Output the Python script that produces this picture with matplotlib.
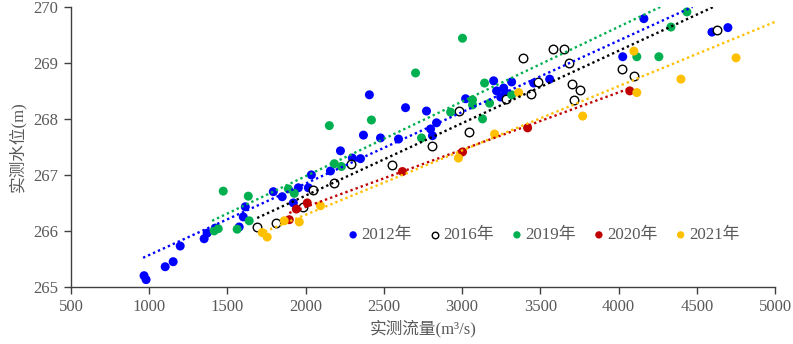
import numpy as np
import matplotlib
matplotlib.use("Agg")
import matplotlib.pyplot as plt

plt.rcParams['font.family'] = ['Liberation Serif', 'Noto Sans CJK SC', 'DejaVu Sans']

# ---- data ----
q2012 = [967, 980, 1102, 1153, 1198, 1351, 1370, 1422, 1575, 1601, 1614, 1793, 1850, 1921,
         1953, 2017, 2036, 2158, 2222, 2298, 2350, 2369, 2407, 2478, 2593, 2638, 2772, 2798,
         2810, 2836, 3022, 3201, 3220, 3246, 3265, 3278, 3316, 3457, 3559, 4026, 4161, 4596, 4698]
h2012 = [265.20, 265.13, 265.36, 265.45, 265.73, 265.86, 265.96, 266.05, 266.07, 266.25, 266.43,
         266.70, 266.61, 266.50, 266.77, 266.77, 267.00, 267.07, 267.43, 267.30, 267.29, 267.71,
         268.43, 267.66, 267.64, 268.20, 268.14, 267.82, 267.70, 267.93, 268.36, 268.68, 268.50,
         268.39, 268.55, 268.46, 268.66, 268.64, 268.71, 269.11, 269.79, 269.55, 269.63]

q2016 = [1690, 1812, 1985, 2049, 2183, 2292, 2554, 2808, 2981, 3045, 3278, 3386, 3438, 3482,
         3578, 3649, 3681, 3700, 3713, 3751, 4020, 4097, 4628]
h2016 = [266.07, 266.14, 266.43, 266.73, 266.86, 267.20, 267.18, 267.52, 268.14, 267.77, 268.35,
         269.09, 268.45, 268.66, 269.25, 269.25, 269.00, 268.62, 268.34, 268.52, 268.89, 268.77,
         269.59]

q2019 = [1415, 1441, 1473, 1562, 1633, 1639, 1889, 1927, 2151, 2183, 2228, 2420, 2702, 2740,
         2926, 3002, 3066, 3066, 3130, 3143, 3175, 3316, 4116, 4257, 4334, 4436]
h2019 = [266.00, 266.04, 266.71, 266.03, 266.62, 266.18, 266.75, 266.67, 267.88, 267.20, 267.15,
         267.98, 268.82, 267.66, 268.12, 269.44, 268.34, 268.25, 268.00, 268.64, 268.28, 268.43,
         269.11, 269.11, 269.64, 269.91]

q2020 = [1895, 1940, 2010, 2618, 3002, 3418, 4071]
h2020 = [266.20, 266.39, 266.50, 267.06, 267.41, 267.84, 268.50]

q2021 = [1722, 1754, 1863, 1959, 2094, 2976, 3207, 3361, 3770, 4097, 4116, 4398, 4750]
h2021 = [265.97, 265.89, 266.18, 266.16, 266.45, 267.30, 267.73, 268.47, 268.05, 269.21, 268.47,
         268.71, 269.09]

# trend lines (start / end points)
trend_q2012 = [961, 4472]
trend_h2012 = [265.52, 270.0]
trend_q2016 = [1690, 4606]
trend_h2016 = [266.23, 270.0]
trend_q2019 = [1402, 4267]
trend_h2019 = [266.18, 270.0]
trend_q2020 = [1895, 4065]
trend_h2020 = [266.32, 268.54]
trend_q2021 = [1740, 4997]
trend_h2021 = [265.99, 269.73]

labels = ['2012年', '2016年', '2019年', '2020年', '2021年']
xticks = [500, 1000, 1500, 2000, 2500, 3000, 3500, 4000, 4500, 5000]
yticks = [265, 266, 267, 268, 269, 270]

series = [(q2012, h2012), (q2016, h2016), (q2019, h2019), (q2020, h2020), (q2021, h2021)]
trends = [(trend_q2012, trend_h2012), (trend_q2016, trend_h2016), (trend_q2019, trend_h2019),
          (trend_q2020, trend_h2020), (trend_q2021, trend_h2021)]
colors = ['#0000FF', '#000000', '#00B050', '#C00000', '#FFC000']

fig = plt.figure(figsize=(7.93, 3.44), dpi=100)
ax = fig.add_axes([0.0895, 0.166, 0.888, 0.814])

tc = '#595959'
handles = []
for (q, h), (tq, th), c, lab in zip(series, trends, colors, labels):
    if c == '#000000':
        ax.scatter(q, h, s=38, facecolors='white', edgecolors='black', linewidths=1.0, zorder=3)
        hd = ax.scatter([], [], s=22, facecolors='white', edgecolors='black', linewidths=1.0)
    else:
        ax.scatter(q, h, s=42, color=c, edgecolors='none', zorder=3)
        hd = ax.scatter([], [], s=28, color=c, edgecolors='none')
    handles.append(hd)
    ax.plot(tq, th, color=c, lw=1.7, ls=(0, (1, 1.3)), zorder=4, clip_on=True)

ax.set_xlim(500, 5000)
ax.set_ylim(265, 270)
ax.set_xticks(xticks)
ax.set_yticks(yticks)
for s in ['top', 'right']:
    ax.spines[s].set_visible(False)
for s in ['left', 'bottom']:
    ax.spines[s].set_color('#404040')
    ax.spines[s].set_linewidth(1.0)
ax.tick_params(direction='out', length=5, width=1.0, color='#404040', labelcolor=tc,
               labelsize=12, pad=4)
ax.set_xlabel('实测流量(m³/s)', fontsize=12, color=tc, labelpad=3)
ax.set_ylabel('实测水位(m)', fontsize=12, color=tc, labelpad=5)

leg = ax.legend(handles, labels, loc='upper left', bbox_to_anchor=(0.379, 0.237), ncol=5,
                frameon=False, fontsize=12.2, handletextpad=0.0, columnspacing=0.85,
                handlelength=1.0, borderaxespad=0)
for t in leg.get_texts():
    t.set_color(tc)

fig.savefig('out.png', dpi=100)
